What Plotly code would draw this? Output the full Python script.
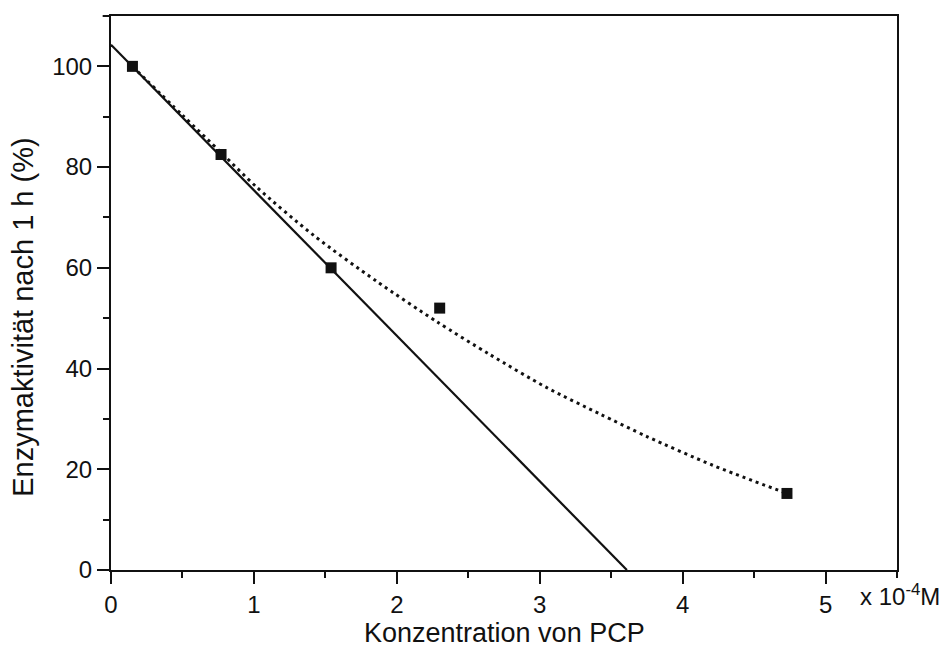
import plotly.graph_objects as go

# Measured data points
conc = [0.15, 0.77, 1.54, 2.30, 4.73]
activity = [100.0, 82.5, 60.0, 52.0, 15.2]

# Linear fit line (end points)
lin_x = [0.0, 3.61]
lin_y = [104.3, 0.0]

# Dotted fit curve
curve_x = [0.15, 0.50, 0.77, 1.02, 1.42, 1.86, 2.28, 2.65, 3.05, 3.42, 3.75, 4.21, 4.73]
curve_y = [100.0, 90.3, 82.9, 76.0, 66.4, 57.3, 49.3, 42.8, 36.2, 31.0, 26.5, 20.8, 15.2]

x_ticks = [0, 1, 2, 3, 4, 5]
y_ticks = [0, 20, 40, 60, 80, 100]

x_title = "Konzentration von PCP"
y_title = "Enzymaktivität nach 1 h (%)"
x_unit = "x 10<sup>-4</sup>M"

FONT = "Liberation Sans, Arial, sans-serif"
INK = "#111111"

fig = go.Figure()
fig.add_trace(go.Scatter(x=curve_x, y=curve_y, mode="lines",
                         line=dict(color=INK, width=3, dash="3px,4px",
                                   shape="spline", smoothing=0.8),
                         hoverinfo="skip", showlegend=False))
fig.add_trace(go.Scatter(x=lin_x, y=lin_y, mode="lines",
                         line=dict(color=INK, width=2.2),
                         hoverinfo="skip", showlegend=False))
fig.add_trace(go.Scatter(x=conc, y=activity, mode="markers",
                         marker=dict(symbol="square", size=11, color=INK),
                         showlegend=False))

axis_common = dict(showline=True, linewidth=2, linecolor=INK, mirror=True,
                   ticks="outside", tickwidth=2, tickcolor=INK, ticklen=12,
                   showgrid=False, zeroline=False,
                   tickfont=dict(family=FONT, size=24, color=INK))

fig.update_xaxes(range=[0, 5.5], tickvals=x_ticks, ticktext=[str(v) for v in x_ticks],
                 minor=dict(dtick=0.5, tick0=0, ticks="outside", ticklen=6,
                            tickwidth=2, tickcolor=INK, showgrid=False),
                 **axis_common)
fig.update_yaxes(range=[0, 110], tickvals=y_ticks, ticktext=[str(v) for v in y_ticks],
                 minor=dict(dtick=10, tick0=0, ticks="outside", ticklen=6,
                            tickwidth=2, tickcolor=INK, showgrid=False),
                 **axis_common)

# Axis titles
fig.add_annotation(xref="paper", yref="paper", x=0.500, y=-0.113,
                   xanchor="center", yanchor="middle", showarrow=False,
                   text=x_title, font=dict(family=FONT, size=27, color=INK))
fig.add_annotation(xref="paper", yref="paper", x=-0.112, y=0.457,
                   xanchor="center", yanchor="middle", showarrow=False, textangle=-90,
                   text=y_title, font=dict(family=FONT, size=29, color=INK))

fig.add_annotation(xref="paper", yref="paper", x=0.950, y=-0.046,
                   xanchor="left", yanchor="middle", showarrow=False,
                   text=x_unit, font=dict(family=FONT, size=24, color=INK))

fig.add_shape(type="line", xref="paper", yref="paper", x0=-0.0106, x1=0, y0=1, y1=1,
              line=dict(color=INK, width=2))

fig.update_layout(width=946, height=647,
                  margin=dict(l=111, r=49, t=16, b=77),
                  paper_bgcolor="white", plot_bgcolor="white",
                  font=dict(family=FONT, color=INK))

fig.write_html("out.html")
